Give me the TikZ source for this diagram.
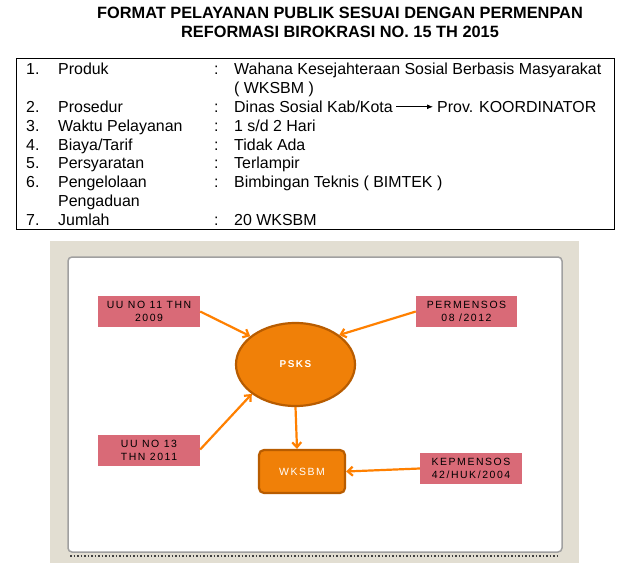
\documentclass[tikz,border=0pt]{standalone}
\usepackage{fontspec}
\setmainfont{Liberation Sans}
\newfontfamily\spcfont[LetterSpace=15]{Liberation Sans}
\usetikzlibrary{arrows.meta,shapes.geometric}
\definecolor{beigebg}{HTML}{E2DED2}
\definecolor{framegray}{HTML}{A0A0A0}
\definecolor{pinkbox}{HTML}{D96A77}
\definecolor{orfill}{HTML}{F08008}
\definecolor{ordraw}{HTML}{B85C00}
\definecolor{orarrow}{HTML}{FF8000}
\tikzset{
  tabtxt/.style={anchor=base west,inner sep=0pt,font=\fontsize{16}{19}\selectfont},
  titletxt/.style={anchor=base,inner sep=0pt,font=\bfseries\fontsize{16.4}{19}\selectfont},
  lawbox/.style={fill=pinkbox,minimum width=102bp,minimum height=31bp,inner sep=0pt,align=center,
                 font=\spcfont\fontsize{10.5}{13.5}\selectfont},
  flowarrow/.style={draw=orarrow,line width=2.2bp,-{Straight Barb[length=5bp,width=9bp]}},
}
\begin{document}
\begin{tikzpicture}[x=1bp,y=-1bp]
\useasboundingbox (0,0) rectangle (639,563);
% title
\node[titletxt] (t1) at (340,19) {FORMAT PELAYANAN PUBLIK SESUAI DENGAN PERMENPAN};
\node[titletxt] (t2) at (340,38) {REFORMASI BIROKRASI NO. 15 TH 2015};
% table
\draw[line width=1bp] (16,59) rectangle (614,229);
\node[tabtxt] (n1) at (26,74.5) {1.};
\node[tabtxt] (l1) at (58,74.5) {Produk};
\node[tabtxt] (c1) at (214,74.5) {:};
\node[tabtxt] (v1) at (234,74.5) {Wahana Kesejahteraan Sosial Berbasis Masyarakat};
\node[tabtxt] (v1b) at (234,93.4) {( WKSBM )};
\node[tabtxt] (n2) at (26,112.3) {2.};
\node[tabtxt] (l2) at (58,112.3) {Prosedur};
\node[tabtxt] (c2) at (214,112.3) {:};
\node[tabtxt] (v2a) at (234,112.3) {Dinas Sosial Kab/Kota};
\node[tabtxt] (v2b) at (437,112.3) {Prov. KOORDINATOR};
\coordinate (a2s) at (396,106.8);
\coordinate (a2e) at (433,106.8);
\draw[line width=0.8bp,-{Latex[length=6bp,width=5bp]}] (a2s) -- (a2e);
\node[tabtxt] (n3) at (26,131.2) {3.};
\node[tabtxt] (l3) at (58,131.2) {Waktu Pelayanan};
\node[tabtxt] (c3) at (214,131.2) {:};
\node[tabtxt] (v3) at (234,131.2) {1 s/d 2 Hari};
\node[tabtxt] (n4) at (26,150.1) {4.};
\node[tabtxt] (l4) at (58,150.1) {Biaya/Tarif};
\node[tabtxt] (c4) at (214,150.1) {:};
\node[tabtxt] (v4) at (234,150.1) {Tidak Ada};
\node[tabtxt] (n5) at (26,169) {5.};
\node[tabtxt] (l5) at (58,169) {Persyaratan};
\node[tabtxt] (c5) at (214,169) {:};
\node[tabtxt] (v5) at (234,169) {Terlampir};
\node[tabtxt] (n6) at (26,187.9) {6.};
\node[tabtxt] (l6) at (58,187.9) {Pengelolaan};
\node[tabtxt] (l6b) at (58,206.8) {Pengaduan};
\node[tabtxt] (c6) at (214,187.9) {:};
\node[tabtxt] (v6) at (234,187.9) {Bimbingan Teknis ( BIMTEK )};
\node[tabtxt] (n7) at (26,225.7) {7.};
\node[tabtxt] (l7) at (58,225.7) {Jumlah};
\node[tabtxt] (c7) at (214,225.7) {:};
\node[tabtxt] (v7) at (234,225.7) {20 WKSBM};
% diagram frame
\fill[beigebg] (50,241) rectangle (579,563);
\draw[framegray,line width=1.5bp,fill=white,rounded corners=4bp] (68,257) rectangle (562,552);
\draw[black!75,line width=2bp,dash pattern=on 1.5bp off 2bp] (70,555.5) -- (560,555.5);
% nodes
\node[lawbox] (uu11) at (149,311.5) {UU NO 11 THN\\2009};
\node[lawbox,minimum width=101bp] (perm) at (466.5,311.5) {PERMENSOS\\08 /2012};
\node[lawbox] (uu13) at (149,450.5) {UU NO 13\\THN 2011};
\node[lawbox] (kep) at (471,468.5) {KEPMENSOS\\42/HUK/2004};
\node[ellipse,fill=orfill,draw=ordraw,line width=2.2bp,minimum width=119bp,minimum height=83bp,inner sep=0pt,
      text=white,font=\spcfont\bfseries\fontsize{10}{12}\selectfont] (psks) at (295.5,364.5) {PSKS};
\node[rectangle,rounded corners=5bp,fill=orfill,draw=ordraw,line width=2.2bp,minimum width=86bp,minimum height=43bp,
      text=white,font=\spcfont\fontsize{10.5}{12}\selectfont] (wksbm) at (302,471.5) {WKSBM};
% connectors
\draw[flowarrow] (uu11.east) -- (psks.148);
\draw[flowarrow] (perm.west) -- (psks.34);
\draw[flowarrow] ([yshift=1bp]uu13.east) -- (psks.214);
\draw[flowarrow] (psks.south) -- ([xshift=-5bp]wksbm.north);
\draw[flowarrow] (kep.west) -- (wksbm.east);
\end{tikzpicture}
\end{document}
